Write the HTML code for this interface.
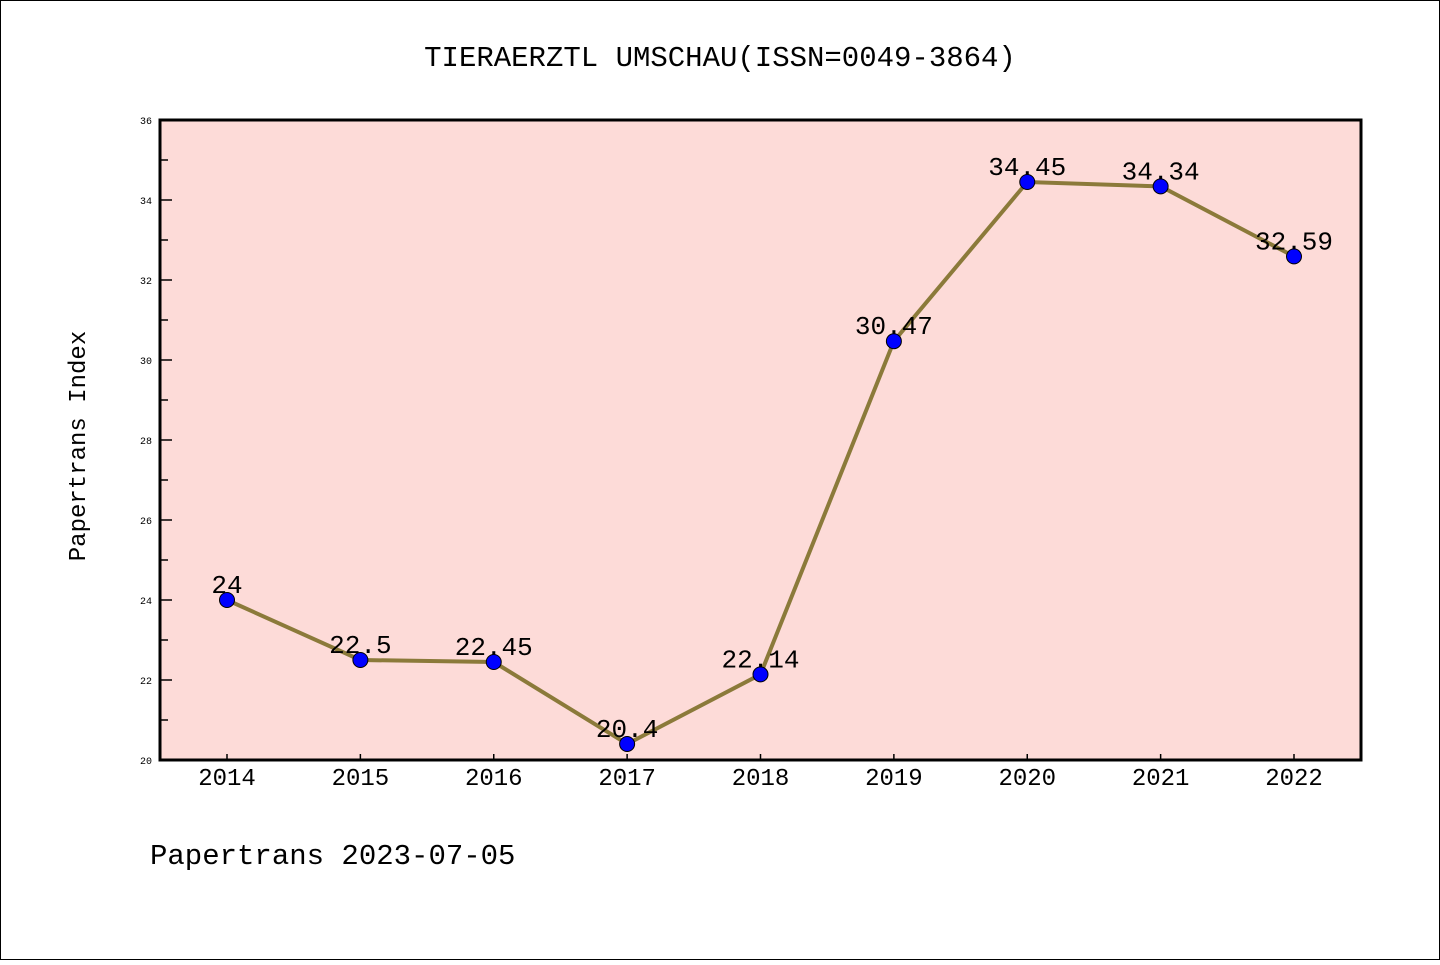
<!DOCTYPE html>
<html><head><meta charset="utf-8"><style>
body{margin:0;background:#fff}
svg text{font-family:"WenQuanYi Zen Hei","Liberation Mono",monospace;fill:#000}
</style></head><body>
<svg id="c" width="1440" height="960" xmlns="http://www.w3.org/2000/svg">
<rect x="0.5" y="0.5" width="1439" height="959" fill="#fff" stroke="#000"/>
<text x="720" y="66" font-size="29" text-anchor="middle">TIERAERZTL UMSCHAU(ISSN=0049-3864)</text>
<rect x="160" y="120" width="1201" height="640" fill="#fddbd8"/>
<g id="ticks"></g>
<g id="series"></g>
<rect x="160" y="120" width="1201" height="640" fill="none" stroke="#000" stroke-width="3"/>
<text transform="translate(85,446) rotate(-90)" font-size="24" text-anchor="middle">Papertrans Index</text>
<text x="150" y="864" font-size="29">Papertrans 2023-07-05</text>
</svg>
<script>
const categories=["2014","2015","2016","2017","2018","2019","2020","2021","2022"];
const values=[24,22.5,22.45,20.4,22.14,30.47,34.45,34.34,32.59];
const labels=["24","22.5","22.45","20.4","22.14","30.47","34.45","34.34","32.59"];
const yTicks=[20,22,24,26,28,30,32,34,36];
const yMin=20,yMax=36;
const NS="http://www.w3.org/2000/svg";
function xs(i){return 227+i*(1294-227)/(categories.length-1);}
function ys(v){return 760-(v-yMin)/(yMax-yMin)*640;}
function mk(t,a,p){const e=document.createElementNS(NS,t);for(const k in a)e.setAttribute(k,a[k]);p.appendChild(e);return e;}
const tk=document.getElementById('ticks'),sr=document.getElementById('series');
yTicks.forEach(v=>{
  const l=mk('line',{x1:160,x2:172,y1:ys(v),y2:ys(v),stroke:'#000','stroke-width':1.5},tk);
  
  
  const t=mk('text',{x:152,y:ys(v)+4,'font-size':10,'text-anchor':'end'},tk);t.textContent=v;
  
  
  if(v<yMax){const m=mk('line',{x1:160,x2:168,y1:ys(v+1),y2:ys(v+1),stroke:'#000','stroke-width':1.5},tk);
  
  }
});
categories.forEach((c,i)=>{
  const l=mk('line',{x1:xs(i),x2:xs(i),y1:760,y2:754,stroke:'#000','stroke-width':1.5},tk);
  
  
  const t=mk('text',{x:xs(i),y:785,'font-size':24,'text-anchor':'middle'},tk);t.textContent=c;
  
  
});
const pl=mk('polyline',{points:values.map((v,i)=>xs(i)+','+ys(v)).join(' '),fill:'none',stroke:'#8b7a3a','stroke-width':4},sr);


values.forEach((v,i)=>{
  const c=mk('circle',{cx:xs(i),cy:ys(v),r:7.5,fill:'#0000ff',stroke:'#000','stroke-width':1},sr);
  
  
  const t=mk('text',{x:xs(i),y:ys(v)-7,'font-size':26,'text-anchor':'middle'},sr);t.textContent=labels[i];
  
  
});
</script>
</body></html>
